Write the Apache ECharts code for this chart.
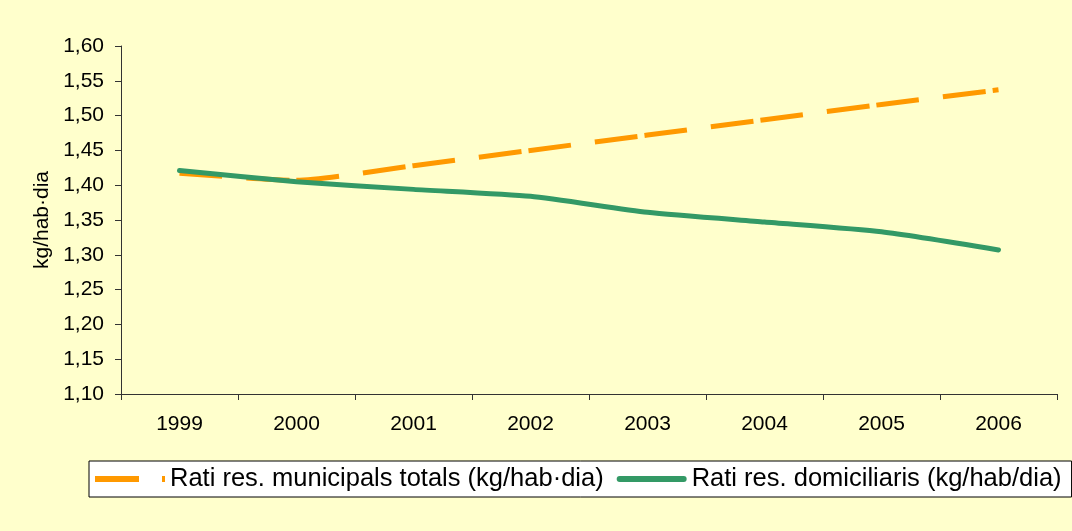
<!DOCTYPE html>
<html>
<head>
<meta charset="utf-8">
<script src="https://cdn.jsdelivr.net/npm/echarts@6/dist/echarts.min.js"></script>
<style>
html,body{margin:0;padding:0;background:#FFFFCC;}
#c{width:1072px;height:531px;}
</style>
</head>
<body>
<div id="c"></div>
<script>
const years = ['1999','2000','2001','2002','2003','2004','2005','2006'];
const municipals = [1.417, 1.407, 1.428, 1.450, 1.472, 1.494, 1.516, 1.537];
const domiciliaris = [1.421, 1.405, 1.394, 1.384, 1.361, 1.347, 1.333, 1.307];
const seriesNames = ['Rati res. municipals totals (kg/hab·dia)', 'Rati res. domiciliaris (kg/hab/dia)'];
const yTitle = 'kg/hab·dia';

const chart = echarts.init(document.getElementById('c'));
const FONT = 'Liberation Sans, Arial, sans-serif';
chart.setOption({
  backgroundColor: '#FFFFCC',
  animation: false,
  textStyle: { fontFamily: FONT, color: '#000' },
  grid: { left: 121, right: 15, top: 46, bottom: 137 },
  legend: {
    left: 89, top: 461,
    backgroundColor: '#FFFFFF',
    borderColor: '#000', borderWidth: 1,
    padding: [5, 10, 5, 6],
    itemWidth: 70, itemHeight: 6, itemGap: 13,
    textStyle: { fontSize: 25.5, lineHeight: 26, fontFamily: FONT, color: '#000' },
    data: [
      { name: seriesNames[0], icon: 'path://M0,0h44v6h-44z M67,0h3v6h-3z', itemStyle: { color: '#FF9900' } },
      { name: seriesNames[1], icon: 'path://M3,0h64a3,3 0 0 1 0,6h-64a3,3 0 0 1 0,-6z', itemStyle: { color: '#339966' } }
    ]
  },
  xAxis: {
    type: 'category', data: years, boundaryGap: true,
    axisLine: { lineStyle: { color: '#333', width: 1 } },
    axisTick: { show: true, length: 6, lineStyle: { color: '#333' } },
    axisLabel: { fontSize: 21, color: '#000', margin: 20, fontFamily: FONT },
    splitLine: { show: false }
  },
  yAxis: {
    type: 'value', min: 1.10, max: 1.60, interval: 0.05,
    name: yTitle, nameLocation: 'middle', nameGap: 66, nameRotate: 90,
    nameTextStyle: { fontSize: 21, color: '#000', fontFamily: FONT },
    axisLine: { show: true, lineStyle: { color: '#333', width: 1 } },
    axisTick: { show: true, length: 6, lineStyle: { color: '#333' } },
    axisLabel: { fontSize: 21, color: '#000', margin: 17, fontFamily: FONT,
      formatter: v => v.toFixed(2).replace('.', ',') },
    splitLine: { show: false }
  },
  series: [
    { name: seriesNames[0], type: 'line', data: municipals, symbol: 'none', smooth: 0.2,
      lineStyle: { color: '#FF9900', width: 5, type: [43, 24, 43, 7] }, itemStyle: { color: '#FF9900' } },
    { name: seriesNames[1], type: 'line', data: domiciliaris, symbol: 'none', smooth: 0.2,
      lineStyle: { color: '#339966', width: 5, cap: 'round', join: 'round' }, itemStyle: { color: '#339966' } }
  ]
});
</script>
</body>
</html>
